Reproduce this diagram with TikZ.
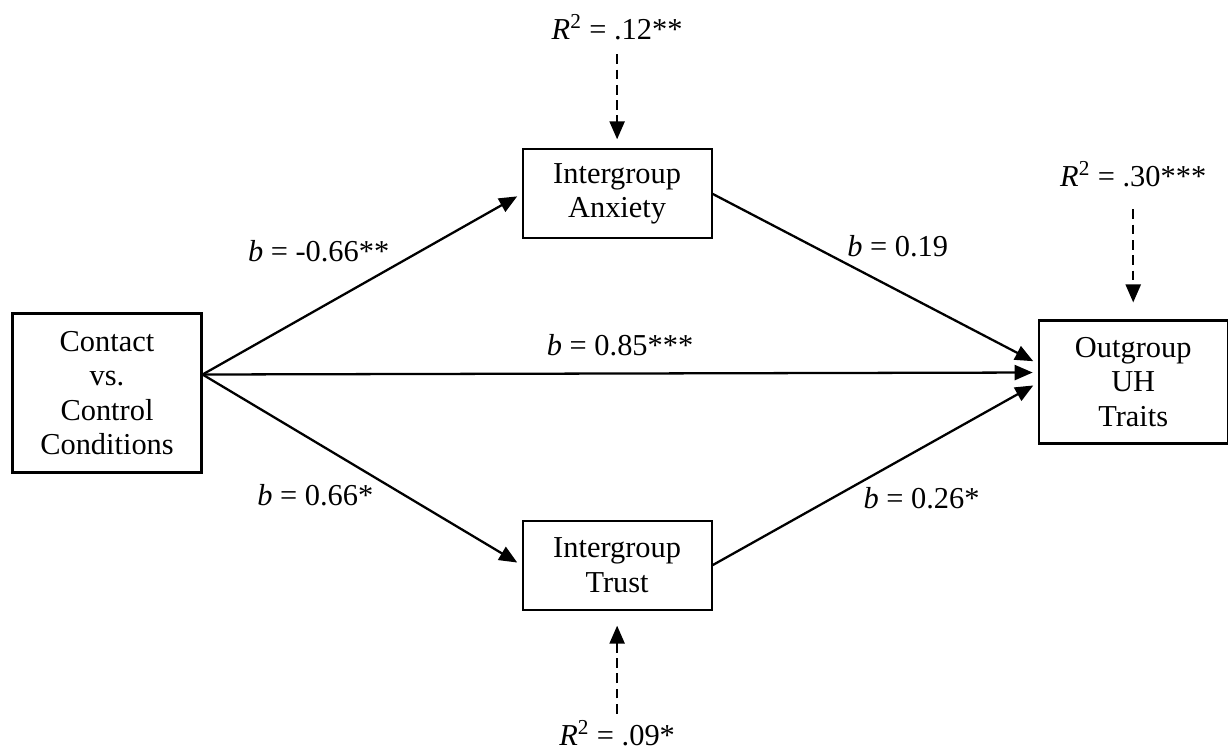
\documentclass[tikz,border=0pt]{standalone}
\usepackage{fontspec}
\setmainfont{Liberation Serif}
\usetikzlibrary{arrows.meta, positioning, calc}

\begin{document}
\begin{tikzpicture}[font=\fontsize{17.3}{19.5}\selectfont,
    box/.style={draw, rectangle, line width=1.2pt, minimum width=3.78cm, align=center, inner sep=2pt},
    link/.style={line width=1.3pt, -{Triangle[length=0.36cm, width=0.3cm]}, shorten >=0.1cm},
    rsq/.style={link, dash pattern=on 5.5pt off 3.2pt},
    lbl/.style={inner sep=2pt}]
    \useasboundingbox (0,0) rectangle (24.56,-15.06);

    \node (contact) [box, minimum height=3.18cm] at (2.14,-7.86) {Contact\\vs.\\Control\\Conditions};
    \node (anx) [box, minimum height=1.78cm, above right=1.46cm and 6.38cm of contact] {Intergroup\\Anxiety};
    \node (trust) [box, minimum height=1.78cm, below right=0.92cm and 6.38cm of contact] {Intergroup\\Trust};
    \node (out) [box, minimum height=2.46cm, below right=1.6cm and 6.5cm of anx] {Outgroup\\UH\\Traits};

    % explained variance
    \node (r2anx) [lbl, above=2.1cm of anx] {\textit{R}\textsuperscript{2} = .12**};
    \node (r2trust) [lbl, below=2.12cm of trust] {\textit{R}\textsuperscript{2} = .09*};
    \node (r2out) [lbl, above=2.57cm of out] {\textit{R}\textsuperscript{2} = .30***};

    \coordinate (src) at ($(contact.east)+(0,0.37)$);

    \draw [link] (src) -- node[lbl, pos=0.6, above left] (banx) {\textit{b} = -0.66**} (anx.west);
    \draw [link] (src) -- node[lbl, above=0.25cm] (bdir) {\textit{b} = 0.85***} ($(out.west)+(0,0.19)$);
    \draw [link] (src) -- node[lbl, pos=0.55, below left] (btrust) {\textit{b} = 0.66*} (trust.west);
    \draw [link] (anx.east) -- node[lbl, pos=0.4, above right] (banxout) {\textit{b} = 0.19} ($(out.west)+(0,0.37)$);
    \draw [link] (trust.east) -- node[lbl, pos=0.45, below right] (btrustout) {\textit{b} = 0.26*} ($(out.west)+(0,-0.02)$);

    \draw [rsq, shorten <=0.22cm, shorten >=0.18cm] (r2anx) -- (anx);
    \draw [rsq, shorten <=0.06cm, shorten >=0.3cm] (r2trust) -- (trust);
    \draw [rsq, shorten <=0.37cm, shorten >=0.34cm] (r2out) -- (out);
\end{tikzpicture}
\end{document}
